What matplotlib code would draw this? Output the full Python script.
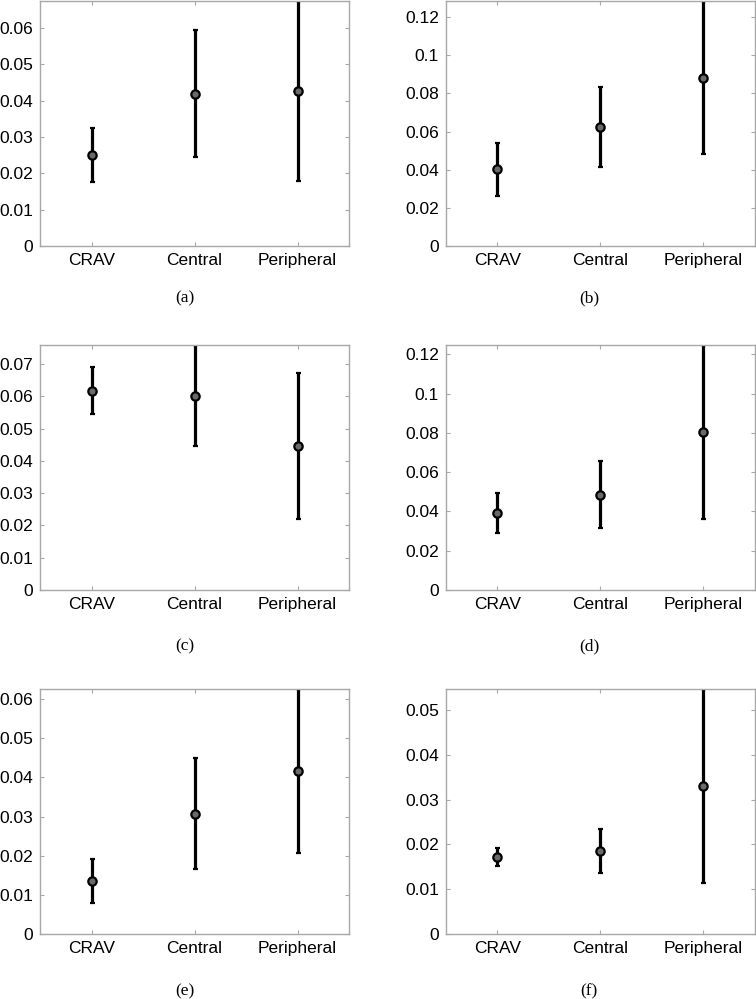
import matplotlib
matplotlib.use("Agg")
import matplotlib.pyplot as plt

categories = ["CRAV", "Central", "Peripheral"]
panel_labels = ["(a)", "(b)", "(c)", "(d)", "(e)", "(f)"]

mean_a = [0.0250, 0.0418, 0.0426]
low_a = [0.0177, 0.0244, 0.0179]
high_a = [0.0325, 0.0594, 0.0675]

mean_b = [0.0402, 0.0626, 0.0882]
low_b = [0.0262, 0.0415, 0.0485]
high_b = [0.0541, 0.0835, 0.1285]

mean_c = [0.0618, 0.0602, 0.0447]
low_c = [0.0545, 0.0447, 0.0221]
high_c = [0.0690, 0.0759, 0.0673]

mean_d = [0.0394, 0.0485, 0.0804]
low_d = [0.0290, 0.0316, 0.0362]
high_d = [0.0495, 0.0655, 0.1247]

mean_e = [0.0136, 0.0307, 0.0416]
low_e = [0.0081, 0.0166, 0.0207]
high_e = [0.0192, 0.0449, 0.0625]

mean_f = [0.0173, 0.0185, 0.0330]
low_f = [0.0152, 0.0136, 0.0115]
high_f = [0.0192, 0.0235, 0.0546]

yticks_a = [0, 0.01, 0.02, 0.03, 0.04, 0.05, 0.06]
yticks_b = [0, 0.02, 0.04, 0.06, 0.08, 0.1, 0.12]
yticks_c = [0, 0.01, 0.02, 0.03, 0.04, 0.05, 0.06, 0.07]
yticks_d = [0, 0.02, 0.04, 0.06, 0.08, 0.1, 0.12]
yticks_e = [0, 0.01, 0.02, 0.03, 0.04, 0.05, 0.06]
yticks_f = [0, 0.01, 0.02, 0.03, 0.04, 0.05]

panels = [
    (mean_a, low_a, high_a, yticks_a),
    (mean_b, low_b, high_b, yticks_b),
    (mean_c, low_c, high_c, yticks_c),
    (mean_d, low_d, high_d, yticks_d),
    (mean_e, low_e, high_e, yticks_e),
    (mean_f, low_f, high_f, yticks_f),
]

W, H = 756, 999
fig = plt.figure(figsize=(W / 100, H / 100), dpi=100)

# axes pixel boxes (left, top, right, bottom)
col_x = [(40, 349), (445.7, 755)]
row_y = [(0.5, 246.3), (345, 590), (689, 934.3)]
cap_x = [185, 589]
cap_y = [298, 646, 991]

gray = "#a8a8a8"
for i, (m, lo, hi, yt) in enumerate(panels):
    r, c = divmod(i, 2)
    x0, x1 = col_x[c]
    y0, y1 = row_y[r]
    ax = fig.add_axes([x0 / W, 1 - y1 / H, (x1 - x0) / W, (y1 - y0) / H])
    xs = [1, 2, 3]
    yerr = [[mi - l for mi, l in zip(m, lo)], [h - mi for mi, h in zip(m, hi)]]
    ax.errorbar(xs, m, yerr=yerr, fmt="o", color="black", ecolor="black",
                elinewidth=2.3, capsize=1.8, capthick=2.0, markersize=6,
                markerfacecolor="#6a6a6a", markeredgecolor="black",
                markeredgewidth=1.6, clip_on=True)
    ax.set_xlim(0.5, 3.5)
    ax.set_ylim(0, max(hi))
    ax.set_xticks(xs)
    ax.set_xticklabels(categories)
    ax.set_yticks(yt)
    ax.set_yticklabels([("%g" % v) for v in yt])
    for s in ax.spines.values():
        s.set_color(gray)
        s.set_linewidth(1.0)
    ax.tick_params(direction="in", length=3, width=0.8, color=gray,
                   top=True, right=True, labelsize=12.5, labelcolor="black",
                   pad=5)
    for lab in ax.get_xticklabels() + ax.get_yticklabels():
        lab.set_fontfamily("Liberation Sans")
    fig.text(cap_x[c] / W, 1 - cap_y[r] / H, panel_labels[i],
             ha="center", va="center", fontsize=12.5,
             fontfamily="Liberation Serif")

fig.savefig("out.png", dpi=100)
